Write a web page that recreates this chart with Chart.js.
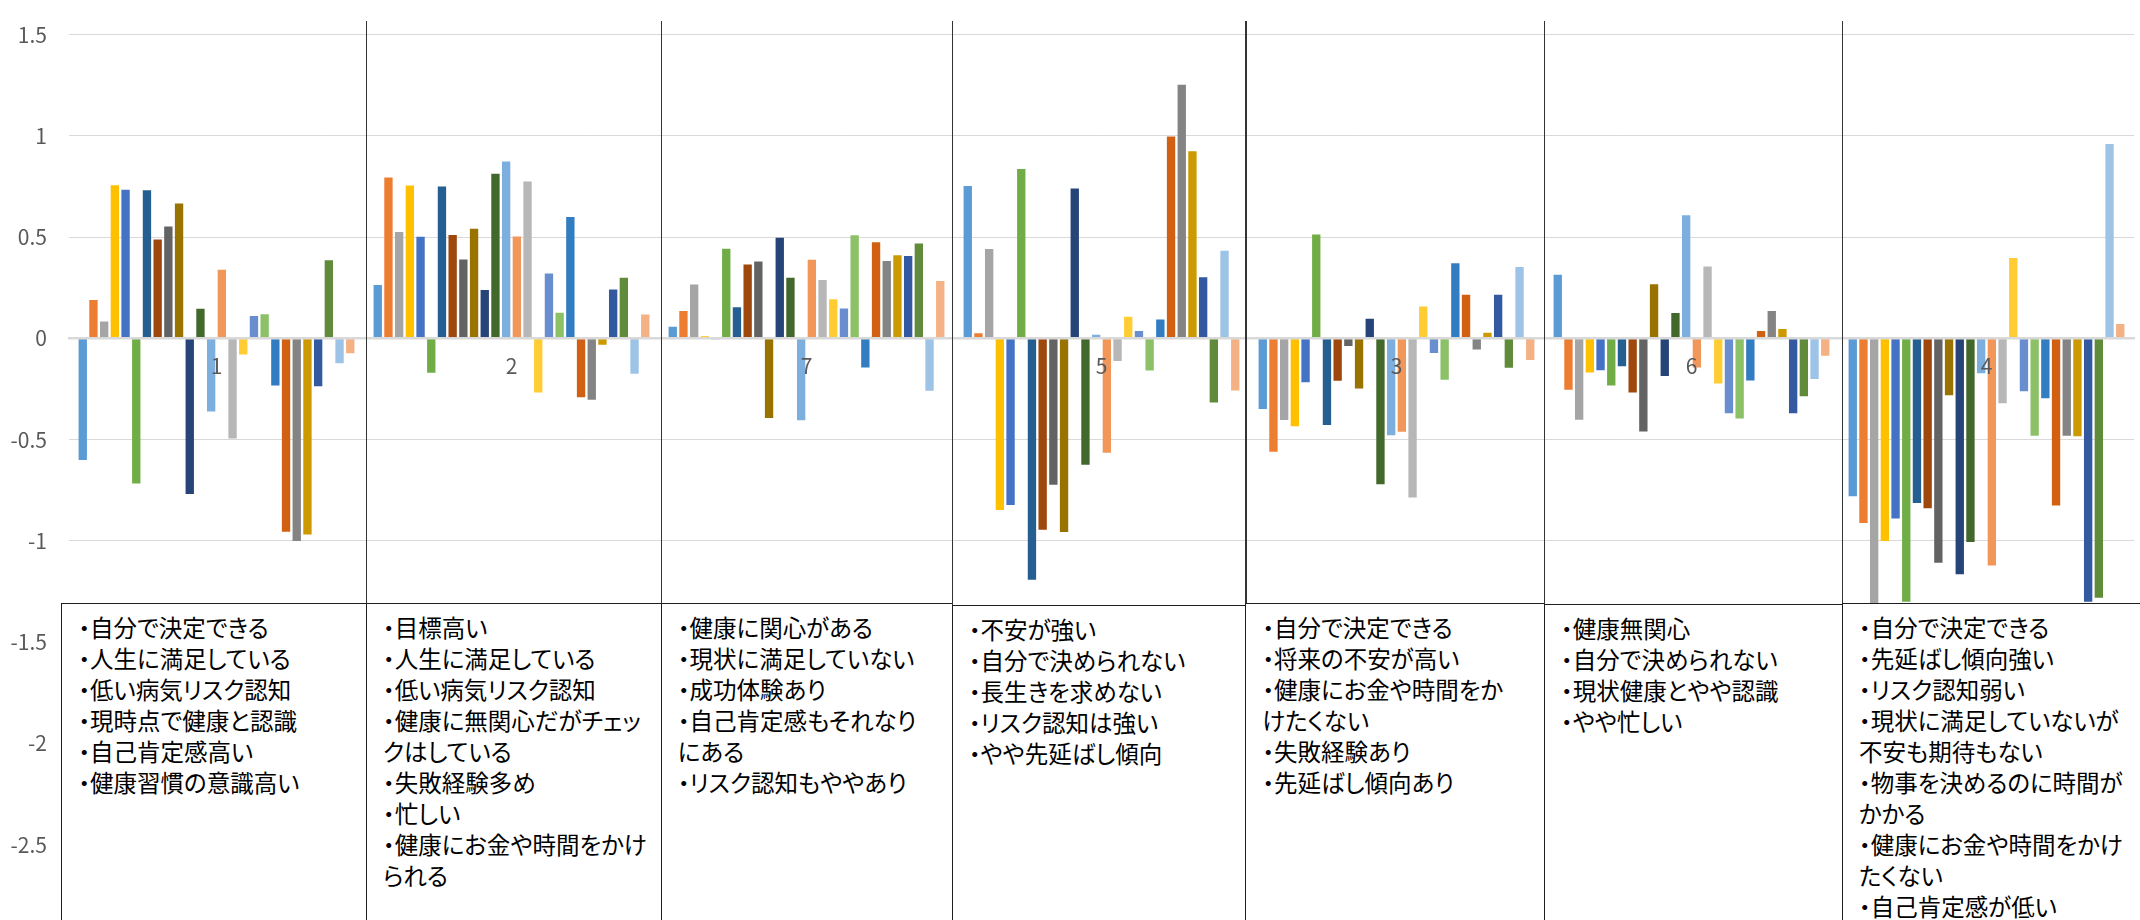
<!DOCTYPE html>
<html lang="ja">
<head>
<meta charset="utf-8">
<script src="https://cdn.jsdelivr.net/npm/chart.js@4.4.1/dist/chart.umd.min.js"></script>
<style>
  html, body { margin: 0; padding: 0; overflow: hidden; background: #fff; }
  #wrap { position: relative; width: 2140px; height: 930px; }
  #chart { position: absolute; left: 0; top: 0; }
  .note {
    position: absolute; box-sizing: border-box; height: 400px;
    border: 1.5px solid #1e1e1e; background: #fff;
    padding: 8px 0 0 16px;
    font-family: "Noto Sans CJK JP", sans-serif; font-size: 23.5px; line-height: 31px;
    color: #000; white-space: pre; font-feature-settings: "palt" 1;
  }
  .divider { position: absolute; top: 21px; width: 1.5px; background: #333; }
</style>
</head>
<body>
<div id="wrap">
  <canvas id="chart" width="2140" height="930"></canvas>
</div>
<script>
// category order as in the sheet
var categories = ["1", "2", "7", "5", "3", "6", "4"];

// one array per cluster, 26 series each (series 1..26)
var cluster1 = [-0.60, 0.19, 0.083, 0.756, 0.734, -0.716, 0.731, 0.488, 0.552, 0.666, -0.768, 0.147, -0.361, 0.339, -0.494, -0.08, 0.111, 0.119, -0.233, -0.955, -1.0, -0.968, -0.236, 0.386, -0.123, -0.073];
var cluster2 = [0.264, 0.794, 0.525, 0.755, 0.502, -0.169, 0.75, 0.511, 0.39, 0.541, 0.239, 0.813, 0.873, 0.503, 0.775, -0.267, 0.321, 0.127, 0.599, -0.291, -0.303, -0.031, 0.242, 0.30, -0.175, 0.118];
var cluster7 = [0.057, 0.135, 0.266, 0.011, -0.004, 0.443, 0.154, 0.365, 0.38, -0.393, 0.497, 0.30, -0.404, 0.388, 0.289, 0.193, 0.148, 0.509, -0.143, 0.475, 0.382, 0.41, 0.407, 0.469, -0.259, 0.283];
var cluster5 = [0.753, 0.026, 0.442, -0.847, -0.823, 0.836, -1.192, -0.945, -0.722, -0.956, 0.74, -0.624, 0.018, -0.564, -0.111, 0.107, 0.036, -0.159, 0.093, 0.997, 1.252, 0.924, 0.302, -0.317, 0.433, -0.257];
var cluster3 = [-0.349, -0.56, -0.403, -0.434, -0.217, 0.513, -0.428, -0.209, -0.038, -0.247, 0.097, -0.72, -0.478, -0.461, -0.786, 0.157, -0.072, -0.204, 0.371, 0.215, -0.055, 0.028, 0.215, -0.145, 0.352, -0.107];
var cluster6 = [0.314, -0.253, -0.401, -0.168, -0.157, -0.233, -0.137, -0.267, -0.459, 0.267, -0.186, 0.126, 0.608, -0.143, 0.355, -0.223, -0.37, -0.396, -0.208, 0.036, 0.135, 0.047, -0.37, -0.286, -0.2, -0.085];
var cluster4 = [-0.779, -0.911, -1.32, -1.0, -0.889, -1.3, -0.813, -0.838, -1.108, -0.281, -1.165, -1.005, -0.172, -1.121, -0.32, 0.397, -0.261, -0.481, -0.296, -0.825, -0.48, -0.483, -1.3, -1.28, 0.96, 0.071];

var clusters = [cluster1, cluster2, cluster7, cluster5, cluster3, cluster6, cluster4];

// office palette, series 1..26
var colors = ["#5B9BD5", "#ED7D31", "#A5A5A5", "#FFC000", "#4472C4", "#70AD47",
              "#255E91", "#9E480E", "#636363", "#997300", "#264478", "#43682B",
              "#7CAFDD", "#F1975A", "#B7B7B7", "#FFCD33", "#698ED0", "#8CC168",
              "#327DC2", "#D26012", "#848484", "#CC9A00", "#335AA1", "#5F8B3A",
              "#9DC3E6", "#F4B183"];

// text boxes under each cluster
var notes = [
  ["・自分で決定できる", "・人生に満足している", "・低い病気リスク認知", "・現時点で健康と認識", "・自己肯定感高い", "・健康習慣の意識高い"],
  ["・目標高い", "・人生に満足している", "・低い病気リスク認知", "・健康に無関心だがチェッ", "クはしている", "・失敗経験多め", "・忙しい", "・健康にお金や時間をかけ", "られる"],
  ["・健康に関心がある", "・現状に満足していない", "・成功体験あり", "・自己肯定感もそれなり", "にある", "・リスク認知もややあり"],
  ["・不安が強い", "・自分で決められない", "・長生きを求めない", "・リスク認知は強い", "・やや先延ばし傾向"],
  ["・自分で決定できる", "・将来の不安が高い", "・健康にお金や時間をか", "けたくない", "・失敗経験あり", "・先延ばし傾向あり"],
  ["・健康無関心", "・自分で決められない", "・現状健康とやや認識", "・やや忙しい"],
  ["・自分で決定できる", "・先延ばし傾向強い", "・リスク認知弱い", "・現状に満足していないが", "不安も期待もない", "・物事を決めるのに時間が", "かかる", "・健康にお金や時間をかけ", "たくない", "・自己肯定感が低い"]
];
var noteLeft = [62, 366.7, 661.5, 952.5, 1246, 1544.7, 1842.7, 2150];
var noteTop = [602.7, 602.7, 603.3, 605, 603.3, 604, 603];

var wrap = document.getElementById("wrap");
for (var i = 0; i < notes.length; i++) {
  var box = document.createElement("div");
  box.className = "note";
  box.style.left = (noteLeft[i] - 0.75) + "px";
  box.style.top = noteTop[i] + "px";
  box.style.width = (noteLeft[i + 1] - noteLeft[i] + 1.5) + "px";
  box.textContent = notes[i].join("\n");
  wrap.appendChild(box);
  if (i > 0) {
    var line = document.createElement("div");
    line.className = "divider";
    line.style.left = (noteLeft[i] - 0.75) + "px";
    line.style.height = (noteTop[i] - 21) + "px";
    wrap.appendChild(line);
  }
}

var datasets = colors.map(function (color, s) {
  return {
    label: "系列" + (s + 1),
    backgroundColor: color,
    data: clusters.map(function (c) { return c[s]; })
  };
});

var font = { family: "'Noto Sans CJK JP', sans-serif", size: 21 };

var ctx = document.getElementById("chart").getContext("2d");
new Chart(ctx, {
  type: "bar",
  data: { labels: categories, datasets: datasets },
  options: {
    responsive: false,
    animation: false,
    layout: { padding: { top: 21, right: 6, bottom: 7.5, left: 0 } },
    datasets: { bar: { categoryPercentage: 0.943, barPercentage: 0.78 } },
    plugins: { legend: { display: false }, tooltip: { enabled: false } },
    scales: {
      x: {
        position: { y: 0 },
        grid: { drawOnChartArea: false, drawTicks: false },
        border: { display: true, color: "#D9D9D9", width: 2.5, z: 1 },
        ticks: { color: "#595959", font: font, padding: 15, z: 1 }
      },
      y: {
        min: -2.75,
        max: 1.5,
        afterFit: function (scale) { scale.width = 69; },
        grid: { color: "#D9D9D9", lineWidth: 1, drawTicks: false },
        border: { display: false },
        ticks: {
          stepSize: 0.5, includeBounds: false, color: "#595959", font: font, padding: 22,
          callback: function (value) { return String(value); }
        }
      }
    }
  }
});
</script>
</body>
</html>
